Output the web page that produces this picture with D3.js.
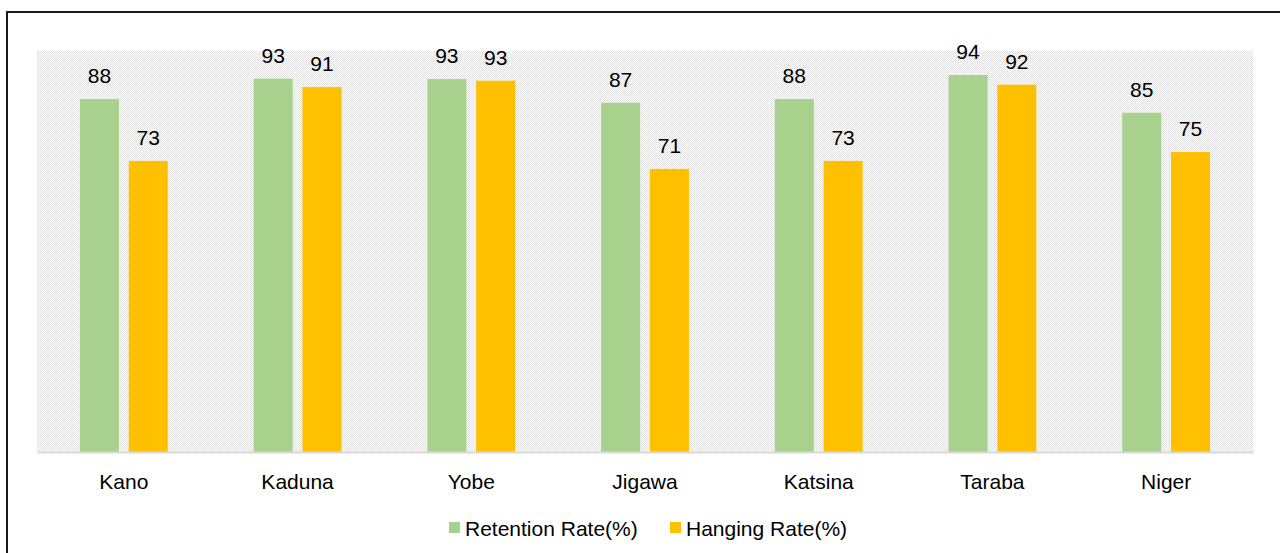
<!DOCTYPE html>
<html>
<head>
<meta charset="utf-8">
<script src="https://cdn.jsdelivr.net/npm/d3@7"></script>
<style>
  body { margin: 0; background: #fff; }
  svg { display: block; font-family: "Liberation Sans", Arial, sans-serif; }
</style>
</head>
<body>
<div id="chart"></div>
<script>
var states = ["Kano", "Kaduna", "Yobe", "Jigawa", "Katsina", "Taraba", "Niger"];
var retention = [88, 93.1, 93, 87.1, 88, 94, 84.6];
var hanging = [72.6, 91, 92.6, 70.6, 72.6, 91.6, 74.8];
var seriesNames = ["Retention Rate(%)", "Hanging Rate(%)"];
var colors = ["#A9D18E", "#FFC000"];

var rows = states.map(function(s, i) {
  return { state: s, values: [retention[i], hanging[i]] };
});

var width = 1280, height = 553;
var plotLeft = 37, plotRight = 1253, plotTop = 51, plotBottom = 452;

var svg = d3.select("#chart").append("svg")
  .attr("width", width)
  .attr("height", height);

var defs = svg.append("defs");
var pat = defs.append("pattern")
  .attr("id", "dots")
  .attr("width", 2).attr("height", 2)
  .attr("patternUnits", "userSpaceOnUse");
pat.append("rect").attr("width", 2).attr("height", 2).attr("fill", "#ffffff");
pat.append("rect").attr("x", 0).attr("y", 0).attr("width", 1).attr("height", 1).attr("fill", "#e0e0e0");
pat.append("rect").attr("x", 1).attr("y", 1).attr("width", 1).attr("height", 1).attr("fill", "#e0e0e0");

// outer frame
svg.append("rect")
  .attr("x", 7).attr("y", 12)
  .attr("width", 1300).attr("height", 600)
  .attr("fill", "none")
  .attr("stroke", "#1a1a1a")
  .attr("stroke-width", 2);

var x0 = d3.scaleBand().domain(states).range([plotLeft, plotRight]);
var x1 = d3.scaleBand().domain([0, 1]).range([0, x0.bandwidth()])
  .paddingInner(0.2).paddingOuter(0.88);
var y = d3.scaleLinear().domain([0, 100]).range([plotBottom, plotTop]);

// plot area background
svg.append("rect")
  .attr("x", plotLeft).attr("y", y(100))
  .attr("width", plotRight - plotLeft).attr("height", plotBottom - y(100))
  .attr("fill", "url(#dots)");

var groups = svg.selectAll("g.state")
  .data(rows)
  .enter().append("g")
  .attr("class", "state")
  .attr("transform", function(d) { return "translate(" + x0(d.state) + ",0)"; });

groups.selectAll("rect")
  .data(function(d) { return d.values; })
  .enter().append("rect")
  .attr("x", function(d, i) { return x1(i); })
  .attr("y", function(d) { return y(d); })
  .attr("width", x1.bandwidth())
  .attr("height", function(d) { return plotBottom - y(d); })
  .attr("fill", function(d, i) { return colors[i]; });

groups.selectAll("text")
  .data(function(d) { return d.values; })
  .enter().append("text")
  .attr("x", function(d, i) { return x1(i) + x1.bandwidth() / 2; })
  .attr("y", function(d) { return y(d) - 16; })
  .attr("text-anchor", "middle")
  .attr("font-size", 21)
  .attr("fill", "#000")
  .text(function(d) { return Math.round(d); });

// baseline + category labels
var xAxis = svg.append("g")
  .attr("transform", "translate(0," + plotBottom + ")")
  .call(d3.axisBottom(x0).tickSize(0).tickPadding(22));
xAxis.select(".domain").attr("stroke", "#d9d9d9").attr("stroke-width", 2);
xAxis.selectAll("text")
  .attr("font-size", 21)
  .attr("font-family", "Liberation Sans, Arial, sans-serif")
  .attr("fill", "#000")
  .attr("dy", "0.72em");

// legend
var legendX = [449, 670];
var legend = svg.selectAll("g.legend")
  .data(seriesNames)
  .enter().append("g")
  .attr("class", "legend")
  .attr("transform", function(d, i) { return "translate(" + legendX[i] + ",522)"; });
legend.append("rect")
  .attr("width", 11).attr("height", 11)
  .attr("fill", function(d, i) { return colors[i]; });
legend.append("text")
  .attr("x", 16).attr("y", 14)
  .attr("font-size", 21)
  .attr("fill", "#000")
  .text(function(d) { return d; });
</script>
</body>
</html>
